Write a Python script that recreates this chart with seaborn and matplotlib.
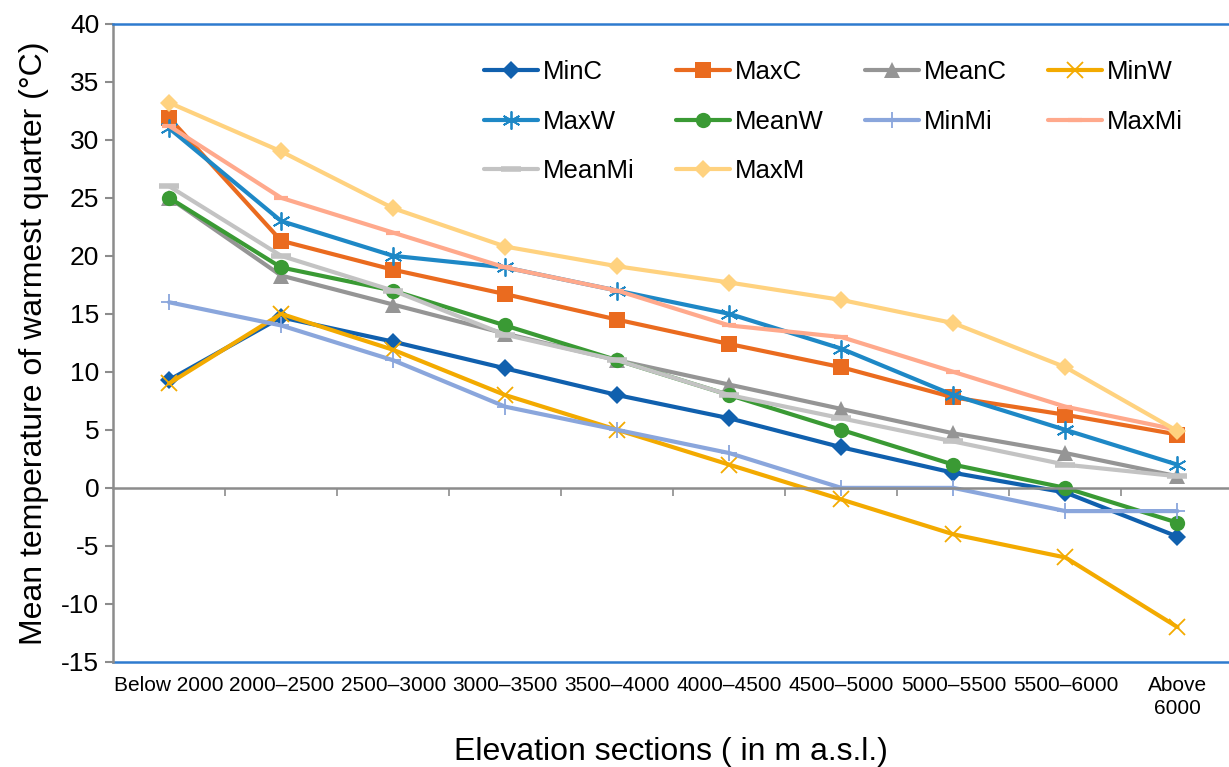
import numpy as np
import pandas as pd
import matplotlib
matplotlib.use("Agg")
import matplotlib.pyplot as plt
import seaborn as sns

sns.set_theme(style="white")
plt.rcParams["font.family"] = ["Liberation Sans", "DejaVu Sans"]
plt.rcParams["axes.unicode_minus"] = False
plt.rcParams["text.color"] = "black"
plt.rcParams["axes.labelcolor"] = "black"
plt.rcParams["xtick.labelcolor"] = "black"
plt.rcParams["ytick.labelcolor"] = "black"

# Elevation sections and temperature series (°C)
categories = ["Below 2000", "2000–2500", "2500–3000", "3000–3500", "3500–4000",
              "4000–4500", "4500–5000", "5000–5500", "5500–6000", "Above\n6000"]

min_c   = [9.3, 14.7, 12.6, 10.3, 8.0, 6.0, 3.5, 1.3, -0.4, -4.2]
max_c   = [31.9, 21.3, 18.8, 16.7, 14.5, 12.4, 10.4, 7.8, 6.3, 4.6]
mean_c  = [25.0, 18.3, 15.8, 13.3, 11.0, 8.9, 6.8, 4.7, 3.0, 1.0]
min_w   = [9.0, 15.0, 11.9, 8.0, 5.0, 2.0, -1.0, -4.0, -6.0, -12.0]
max_w   = [31.0, 23.0, 20.0, 19.0, 17.0, 15.0, 12.0, 8.0, 5.0, 2.0]
mean_w  = [25.0, 19.0, 17.0, 14.0, 11.0, 8.0, 5.0, 2.0, 0.0, -3.0]
min_mi  = [16.0, 14.0, 11.0, 7.0, 5.0, 3.0, 0.0, 0.0, -2.0, -2.0]
max_mi  = [31.2, 25.0, 22.0, 19.0, 17.0, 14.0, 13.0, 10.0, 7.0, 5.0]
mean_mi = [26.0, 20.0, 17.0, 13.2, 11.0, 8.0, 6.0, 4.0, 2.0, 1.0]
max_m   = [33.2, 29.0, 24.1, 20.8, 19.1, 17.7, 16.2, 14.2, 10.4, 4.9]

series_names = ["MinC", "MaxC", "MeanC", "MinW", "MaxW", "MeanW",
                "MinMi", "MaxMi", "MeanMi", "MaxM"]
series_values = [min_c, max_c, mean_c, min_w, max_w, mean_w,
                 min_mi, max_mi, mean_mi, max_m]

styles = {
    "MinC":   dict(color="#1060AE", marker="D", markersize=9),
    "MaxC":   dict(color="#EA6B1F", marker="s", markersize=11),
    "MeanC":  dict(color="#959595", marker="^", markersize=11),
    "MinW":   dict(color="#F3AA00", marker="x", markersize=11, markeredgewidth=1.3),
    "MaxW":   dict(color="#1E88C6", marker=(6, 2, 0), markersize=13, markeredgewidth=1.3),
    "MeanW":  dict(color="#3A9A34", marker="o", markersize=11),
    "MinMi":  dict(color="#8AA6DC", marker="+", markersize=12, markeredgewidth=1.3),
    "MaxMi":  dict(color="#FFA98C", marker="_", markersize=10, markeredgewidth=3),
    "MeanMi": dict(color="#C3C3C3", marker="_", markersize=14, markeredgewidth=4),
    "MaxM":   dict(color="#FFD27F", marker="D", markersize=9),
}

x_pos = np.arange(len(categories))
df = pd.DataFrame({"pos": np.tile(x_pos, len(series_names)),
                   "value": np.concatenate(series_values),
                   "series": np.repeat(series_names, len(categories))})

fig = plt.figure(figsize=(12.29, 7.67), dpi=100)
ax = fig.add_axes([0.092, 0.137, 0.908, 0.832])

handles = {}
for name in series_names:
    st = styles[name]
    sub = df[df["series"] == name]
    sns.lineplot(data=sub, x="pos", y="value", ax=ax, color=st["color"],
                 marker=st["marker"], markersize=st["markersize"],
                 markeredgewidth=st.get("markeredgewidth", 0),
                 markeredgecolor=st["color"], linewidth=3.0, label=name,
                 legend=False)
    handles[name] = ax.get_lines()[-1]

ax.set_xlim(-0.5, 9.46)
ax.set_ylim(-15, 40)
ax.set_yticks(np.arange(-15, 41, 5))
ax.tick_params(axis="y", which="major", direction="out", length=6, width=1.5,
               color="#8C8C8C", labelsize=19, pad=4, left=True)

# zero axis with boundary ticks
ax.spines["bottom"].set_position(("data", 0))
ax.spines["bottom"].set_color("#8C8C8C")
ax.spines["bottom"].set_linewidth(1.8)
ax.set_xticks(x_pos[:-1] + 0.5)
ax.set_xticklabels([])
ax.tick_params(axis="x", direction="out", length=6, width=1.2, color="#8C8C8C",
               bottom=True)
ax.spines["left"].set_color("#8C8C8C")
ax.spines["left"].set_linewidth(1.8)
ax.spines["top"].set_color("#2E7BCF")
ax.spines["top"].set_linewidth(1.8)
ax.spines["right"].set_visible(False)
ax.set_xlabel("")

# category labels along the frame bottom
sec = ax.secondary_xaxis(0.0)
sec.set_xticks(x_pos)
sec.set_xticklabels(categories, fontsize=15, linespacing=1.25, color="black")
sec.tick_params(length=0, pad=10)
sec.spines["bottom"].set_color("#2E7BCF")
sec.spines["bottom"].set_linewidth(1.8)
sec.set_xlabel("Elevation sections ( in m a.s.l.)", fontsize=23, labelpad=14,
               color="black")

ax.set_ylabel("Mean temperature of warmest quarter (°C)", fontsize=23, labelpad=9,
              color="black")

order = ["MinC", "MaxW", "MeanMi", "MaxC", "MeanW", "MaxM", "MeanC", "MinMi", "MinW", "MaxMi"]
fig.legend([handles[n] for n in order], order, ncol=4, frameon=False,
           loc="upper left", bbox_to_anchor=(0.375, 0.952), fontsize=18.5,
           handlelength=2.1, handletextpad=0.2, columnspacing=1.6,
           labelspacing=1.0)

fig.savefig("out.png", dpi=100)
